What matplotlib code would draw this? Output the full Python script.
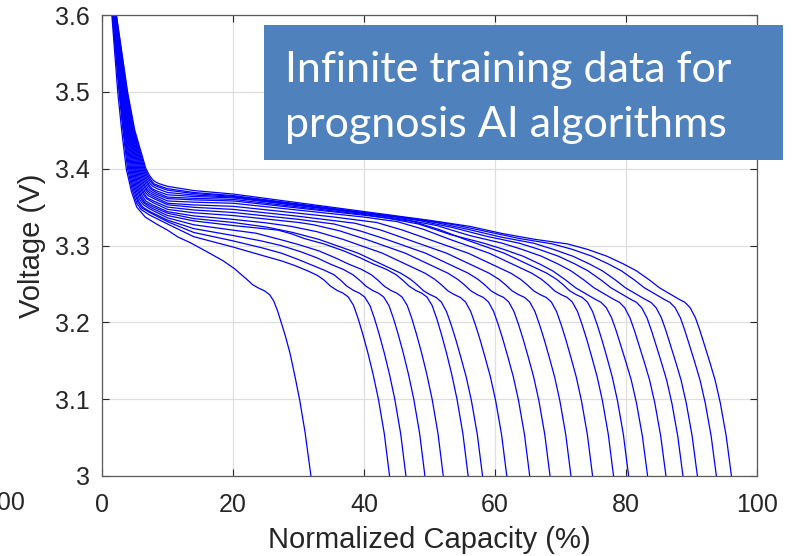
import matplotlib
matplotlib.use("Agg")
import matplotlib.pyplot as plt
from matplotlib.patches import Rectangle

# Discharge curves: normalized capacity (%) and cell voltage (V), one list per cycle
capacity = [
    [1.2, 1.5, 2.4, 3.0, 3.7, 4.5, 5.3, 6.6, 8.3, 10.0, 11.6, 13.4, 16.0, 18.5, 20.2, 22.1, 23.0, 23.8, 24.8, 25.6, 26.2, 26.8, 27.5, 28.0, 28.7, 29.5, 30.2, 31.0, 31.9],
    [1.30, 1.60, 2.60, 3.20, 3.90, 4.60, 5.30, 5.96, 7.18, 10, 14, 20, 24.9, 27.4, 29.4, 31.4, 32.9, 33.9, 34.9, 35.9, 36.8, 37.6, 38.4, 39.1, 39.8, 40.6, 41.4, 42.2, 43.1, 43.9],
    [1.33, 1.63, 2.67, 3.30, 4.06, 4.75, 5.44, 6.08, 7.26, 10, 14, 20, 24.4, 27.4, 29.9, 31.9, 33.9, 35.4, 36.4, 37.4, 38.4, 39.3, 40.1, 40.9, 41.6, 42.3, 43.1, 43.9, 44.7, 45.6, 46.4],
    [1.36, 1.67, 2.74, 3.40, 4.21, 4.90, 5.58, 6.20, 7.35, 10, 14, 20, 24.3, 27.3, 30.3, 32.8, 34.8, 36.8, 38.3, 39.3, 40.3, 41.3, 42.2, 43.0, 43.8, 44.5, 45.2, 46.0, 46.8, 47.6, 48.5, 49.3],
    [1.38, 1.70, 2.82, 3.50, 4.37, 5.05, 5.72, 6.32, 7.43, 10, 14, 20, 23.5, 27.1, 30.1, 33.1, 35.6, 37.6, 39.6, 41.1, 42.1, 43.1, 44.1, 45.0, 45.8, 46.6, 47.3, 48.0, 48.8, 49.6, 50.4, 51.3, 52.1],
    [1.41, 1.73, 2.89, 3.60, 4.52, 5.19, 5.86, 6.44, 7.52, 10, 14, 20, 26.9, 29.0, 30.9, 33.9, 36.9, 39.4, 41.4, 43.4, 44.9, 45.9, 46.9, 47.9, 48.8, 49.6, 50.4, 51.1, 51.8, 52.6, 53.4, 54.2, 55.1, 55.9],
    [1.44, 1.77, 2.96, 3.70, 4.68, 5.34, 6.00, 6.56, 7.60, 10, 14, 20, 25.1, 29.1, 33.1, 36.1, 39.1, 41.6, 43.6, 45.6, 47.1, 48.1, 49.1, 50.1, 51.0, 51.8, 52.6, 53.3, 54.0, 54.8, 55.6, 56.4, 57.3, 58.1],
    [1.47, 1.80, 3.03, 3.80, 4.83, 5.48, 6.13, 6.67, 7.68, 10, 14, 20, 25, 28.8, 32.8, 36.8, 39.8, 42.8, 45.3, 47.3, 49.3, 50.8, 51.8, 52.8, 53.8, 54.7, 55.5, 56.3, 57.0, 57.7, 58.5, 59.3, 60.1, 61.0, 61.8],
    [1.49, 1.83, 3.11, 3.90, 4.99, 5.63, 6.27, 6.79, 7.76, 10, 14, 20, 25, 30, 32.3, 36.3, 40.3, 43.3, 46.3, 48.8, 50.8, 52.8, 54.3, 55.3, 56.3, 57.3, 58.2, 59.0, 59.8, 60.5, 61.2, 62.0, 62.8, 63.6, 64.5, 65.3],
    [1.52, 1.87, 3.18, 4.00, 5.14, 5.78, 6.41, 6.91, 7.85, 10, 14, 20, 25, 30, 35.4, 39.4, 43.4, 46.4, 49.4, 51.9, 53.9, 55.9, 57.4, 58.4, 59.4, 60.4, 61.3, 62.1, 62.9, 63.6, 64.3, 65.1, 65.9, 66.7, 67.6, 68.4],
    [1.55, 1.90, 3.25, 4.10, 5.30, 5.93, 6.55, 7.03, 7.93, 10, 14, 20, 25, 30, 38.6, 42.6, 46.6, 49.6, 52.6, 55.1, 57.1, 59.1, 60.6, 61.6, 62.6, 63.6, 64.5, 65.3, 66.1, 66.8, 67.5, 68.3, 69.1, 69.9, 70.8, 71.6],
    [1.58, 1.93, 3.32, 4.20, 5.46, 6.08, 6.69, 7.15, 8.01, 10, 14, 20, 25, 30, 35, 41.9, 45.9, 49.9, 52.9, 55.9, 58.4, 60.4, 62.4, 63.9, 64.9, 65.9, 66.9, 67.8, 68.6, 69.4, 70.1, 70.8, 71.6, 72.4, 73.2, 74.1, 74.9],
    [1.61, 1.97, 3.39, 4.30, 5.61, 6.22, 6.83, 7.27, 8.10, 10, 14, 20, 25, 30, 35, 40, 45.1, 49.1, 53.1, 56.1, 59.1, 61.6, 63.6, 65.6, 67.1, 68.1, 69.1, 70.1, 71.0, 71.8, 72.6, 73.3, 74.0, 74.8, 75.6, 76.4, 77.3, 78.1],
    [1.63, 2.00, 3.47, 4.40, 5.77, 6.37, 6.97, 7.39, 8.18, 10, 14, 20, 25, 30, 35, 40, 47.4, 51.4, 55.4, 58.4, 61.4, 63.9, 65.9, 67.9, 69.4, 70.4, 71.4, 72.4, 73.3, 74.1, 74.9, 75.6, 76.3, 77.1, 77.9, 78.7, 79.6, 80.4],
    [1.66, 2.03, 3.54, 4.50, 5.92, 6.52, 7.11, 7.52, 8.27, 10, 14, 20, 25, 30, 35, 40, 43.3, 48.3, 53.3, 58.3, 61.3, 64.3, 66.8, 68.8, 70.8, 72.3, 73.3, 74.3, 75.3, 76.2, 77.0, 77.8, 78.5, 79.2, 80.0, 80.8, 81.6, 82.5, 83.3],
    [1.69, 2.07, 3.61, 4.60, 6.08, 6.66, 7.24, 7.63, 8.34, 10, 14, 20, 25, 30, 35, 40, 46.1, 51.1, 56.1, 61.1, 64.1, 67.1, 69.6, 71.6, 73.6, 75.1, 76.1, 77.1, 78.1, 79.0, 79.8, 80.6, 81.3, 82.0, 82.8, 83.6, 84.4, 85.3, 86.1],
    [1.72, 2.10, 3.68, 4.70, 6.23, 6.81, 7.38, 7.75, 8.43, 10, 14, 20, 25, 30, 35, 40, 45, 48.7, 53.7, 58.7, 63.7, 66.7, 69.7, 72.2, 74.2, 76.2, 77.7, 78.7, 79.7, 80.7, 81.6, 82.4, 83.2, 83.9, 84.6, 85.4, 86.2, 87.0, 87.9, 88.7],
    [1.74, 2.13, 3.76, 4.80, 6.39, 6.96, 7.52, 7.87, 8.51, 10, 14, 20, 25, 30, 35, 40, 45, 50.9, 55.9, 60.9, 65.9, 68.9, 71.9, 74.4, 76.4, 78.4, 79.9, 80.9, 81.9, 82.9, 83.8, 84.6, 85.4, 86.1, 86.8, 87.6, 88.4, 89.2, 90.1, 90.9],
    [1.77, 2.17, 3.83, 4.90, 6.54, 7.10, 7.66, 7.99, 8.60, 10, 14, 20, 25, 30, 35, 40, 45, 50, 53.8, 58.8, 63.8, 68.8, 71.8, 74.8, 77.3, 79.3, 81.3, 82.8, 83.8, 84.8, 85.8, 86.7, 87.5, 88.3, 89.0, 89.7, 90.5, 91.3, 92.1, 93.0, 93.8],
    [1.80, 2.20, 3.90, 5.00, 6.70, 7.25, 7.80, 8.11, 8.68, 10, 14, 20, 25, 30, 35, 40, 45, 50, 56.1, 61.1, 66.1, 71.1, 74.1, 77.1, 79.6, 81.6, 83.6, 85.1, 86.1, 87.1, 88.1, 89.0, 89.8, 90.6, 91.3, 92.0, 92.8, 93.6, 94.4, 95.3, 96.1],
]

voltage = [
    [3.65, 3.60, 3.50, 3.45, 3.40, 3.370, 3.350, 3.337, 3.328, 3.320, 3.311, 3.304, 3.292, 3.280, 3.270, 3.256, 3.249, 3.245, 3.241, 3.236, 3.228, 3.215, 3.196, 3.182, 3.160, 3.128, 3.098, 3.057, 3.000],
    [3.65, 3.60, 3.50, 3.45, 3.40, 3.373, 3.355, 3.347, 3.340, 3.328, 3.3115, 3.298, 3.286, 3.280, 3.274, 3.267, 3.261, 3.255, 3.247, 3.2415, 3.238, 3.233, 3.222, 3.205, 3.185, 3.160, 3.132, 3.100, 3.055, 3.000],
    [3.65, 3.60, 3.50, 3.45, 3.40, 3.374, 3.357, 3.349, 3.343, 3.331, 3.317, 3.306, 3.297, 3.290, 3.282, 3.275, 3.268, 3.262, 3.255, 3.247, 3.2415, 3.238, 3.233, 3.222, 3.205, 3.185, 3.160, 3.132, 3.100, 3.055, 3.000],
    [3.65, 3.60, 3.50, 3.45, 3.40, 3.375, 3.358, 3.350, 3.344, 3.333, 3.322, 3.313, 3.306, 3.300, 3.292, 3.284, 3.276, 3.269, 3.262, 3.255, 3.247, 3.2415, 3.238, 3.233, 3.222, 3.205, 3.185, 3.160, 3.132, 3.100, 3.055, 3.000],
    [3.65, 3.60, 3.50, 3.45, 3.40, 3.376, 3.360, 3.353, 3.347, 3.336, 3.327, 3.320, 3.316, 3.308, 3.301, 3.293, 3.284, 3.276, 3.269, 3.262, 3.255, 3.247, 3.2415, 3.238, 3.233, 3.222, 3.205, 3.185, 3.160, 3.132, 3.100, 3.055, 3.000],
    [3.65, 3.60, 3.50, 3.45, 3.40, 3.377, 3.362, 3.355, 3.349, 3.339, 3.332, 3.326, 3.320, 3.315, 3.309, 3.302, 3.293, 3.284, 3.276, 3.269, 3.262, 3.255, 3.247, 3.2415, 3.238, 3.233, 3.222, 3.205, 3.185, 3.160, 3.132, 3.100, 3.055, 3.000],
    [3.65, 3.60, 3.50, 3.45, 3.40, 3.378, 3.363, 3.356, 3.351, 3.342, 3.335, 3.330, 3.324, 3.317, 3.308, 3.299, 3.290, 3.280, 3.272, 3.264, 3.256, 3.249, 3.241, 3.236, 3.2325, 3.2265, 3.214, 3.197, 3.178, 3.154, 3.129, 3.098, 3.054, 3.000],
    [3.65, 3.60, 3.50, 3.45, 3.40, 3.379, 3.365, 3.358, 3.353, 3.344, 3.3385, 3.334, 3.3295, 3.325, 3.318, 3.308, 3.299, 3.290, 3.280, 3.272, 3.264, 3.256, 3.249, 3.241, 3.236, 3.2325, 3.2265, 3.214, 3.197, 3.178, 3.154, 3.129, 3.098, 3.054, 3.000],
    [3.65, 3.60, 3.50, 3.45, 3.40, 3.380, 3.367, 3.361, 3.356, 3.347, 3.3426, 3.339, 3.3345, 3.330, 3.327, 3.319, 3.308, 3.299, 3.290, 3.280, 3.272, 3.264, 3.256, 3.249, 3.241, 3.236, 3.2325, 3.2265, 3.214, 3.197, 3.178, 3.154, 3.129, 3.098, 3.054, 3.000],
    [3.65, 3.60, 3.50, 3.45, 3.40, 3.381, 3.368, 3.362, 3.358, 3.350, 3.3462, 3.343, 3.3385, 3.334, 3.328, 3.319, 3.308, 3.299, 3.290, 3.280, 3.272, 3.264, 3.256, 3.249, 3.241, 3.236, 3.2325, 3.2265, 3.214, 3.197, 3.178, 3.154, 3.129, 3.098, 3.054, 3.000],
    [3.65, 3.60, 3.50, 3.45, 3.40, 3.382, 3.370, 3.365, 3.361, 3.353, 3.3497, 3.347, 3.3425, 3.338, 3.329, 3.320, 3.308, 3.299, 3.290, 3.280, 3.272, 3.264, 3.256, 3.249, 3.241, 3.236, 3.2325, 3.2265, 3.214, 3.197, 3.178, 3.154, 3.129, 3.098, 3.054, 3.000],
    [3.65, 3.60, 3.50, 3.45, 3.40, 3.383, 3.372, 3.367, 3.363, 3.355, 3.3528, 3.351, 3.3465, 3.342, 3.3375, 3.330, 3.320, 3.308, 3.299, 3.290, 3.280, 3.272, 3.264, 3.256, 3.249, 3.241, 3.236, 3.2325, 3.2265, 3.214, 3.197, 3.178, 3.154, 3.129, 3.098, 3.054, 3.000],
    [3.65, 3.60, 3.50, 3.45, 3.40, 3.384, 3.373, 3.369, 3.365, 3.358, 3.3564, 3.355, 3.3505, 3.346, 3.3415, 3.337, 3.331, 3.321, 3.308, 3.299, 3.290, 3.280, 3.272, 3.264, 3.256, 3.249, 3.241, 3.236, 3.2325, 3.2265, 3.214, 3.197, 3.178, 3.154, 3.129, 3.098, 3.054, 3.000],
    [3.65, 3.60, 3.50, 3.45, 3.40, 3.385, 3.375, 3.371, 3.367, 3.361, 3.3594, 3.358, 3.3534, 3.3487, 3.3441, 3.3394, 3.3315, 3.321, 3.308, 3.299, 3.290, 3.280, 3.272, 3.264, 3.256, 3.249, 3.241, 3.236, 3.2325, 3.2265, 3.214, 3.197, 3.178, 3.154, 3.129, 3.098, 3.054, 3.000],
    [3.65, 3.60, 3.50, 3.45, 3.40, 3.386, 3.377, 3.373, 3.369, 3.363, 3.3614, 3.360, 3.3551, 3.3502, 3.3453, 3.3404, 3.336, 3.328, 3.314, 3.303, 3.295, 3.286, 3.276, 3.267, 3.255, 3.245, 3.240, 3.235, 3.230, 3.226, 3.219, 3.206, 3.189, 3.170, 3.148, 3.125, 3.095, 3.052, 3.000],
    [3.65, 3.60, 3.50, 3.45, 3.40, 3.387, 3.378, 3.374, 3.371, 3.366, 3.3638, 3.362, 3.3569, 3.3518, 3.3467, 3.3416, 3.334, 3.326, 3.313, 3.303, 3.295, 3.286, 3.276, 3.267, 3.255, 3.245, 3.240, 3.235, 3.230, 3.226, 3.219, 3.206, 3.189, 3.170, 3.148, 3.125, 3.095, 3.052, 3.000],
    [3.65, 3.60, 3.50, 3.45, 3.40, 3.388, 3.380, 3.377, 3.374, 3.369, 3.3657, 3.363, 3.3578, 3.3525, 3.3473, 3.342, 3.3368, 3.332, 3.323, 3.312, 3.303, 3.295, 3.286, 3.276, 3.267, 3.255, 3.245, 3.240, 3.235, 3.230, 3.226, 3.219, 3.206, 3.189, 3.170, 3.148, 3.125, 3.095, 3.052, 3.000],
    [3.65, 3.60, 3.50, 3.45, 3.40, 3.389, 3.382, 3.379, 3.3765, 3.372, 3.3676, 3.364, 3.3587, 3.3533, 3.348, 3.3426, 3.3373, 3.330, 3.321, 3.311, 3.303, 3.295, 3.286, 3.276, 3.267, 3.255, 3.245, 3.240, 3.235, 3.230, 3.226, 3.219, 3.206, 3.189, 3.170, 3.148, 3.125, 3.095, 3.052, 3.000],
    [3.65, 3.60, 3.50, 3.45, 3.40, 3.390, 3.383, 3.380, 3.378, 3.374, 3.369, 3.365, 3.3595, 3.354, 3.3485, 3.343, 3.3375, 3.332, 3.327, 3.318, 3.309, 3.302, 3.295, 3.286, 3.276, 3.267, 3.255, 3.245, 3.240, 3.235, 3.230, 3.226, 3.219, 3.206, 3.189, 3.170, 3.148, 3.125, 3.095, 3.052, 3.000],
    [3.65, 3.60, 3.50, 3.45, 3.40, 3.391, 3.385, 3.383, 3.3806, 3.377, 3.3715, 3.367, 3.3613, 3.3556, 3.3499, 3.3442, 3.3385, 3.3328, 3.325, 3.3156, 3.308, 3.302, 3.295, 3.286, 3.276, 3.267, 3.255, 3.245, 3.240, 3.235, 3.230, 3.226, 3.219, 3.206, 3.189, 3.170, 3.148, 3.125, 3.095, 3.052, 3.000],
]

x_ticks = [0, 20, 40, 60, 80, 100]
y_ticks = [3.0, 3.1, 3.2, 3.3, 3.4, 3.5, 3.6]
y_tick_labels = ["3", "3.1", "3.2", "3.3", "3.4", "3.5", "3.6"]
banner_lines = ["Infinite training data for", "prognosis AI algorithms"]

axis_color = "#262626"
plt.rcParams["font.family"] = ["Liberation Sans", "DejaVu Sans"]

fig = plt.figure(figsize=(7.92, 5.56), dpi=100)
ax = fig.add_axes([0.1288, 0.1439, 0.8270, 0.8291])

for cap, volt in zip(capacity, voltage):
    ax.plot(cap, volt, color="#0000ff", linewidth=0.9)

ax.set_xlim(0, 100)
ax.set_ylim(3.0, 3.6)
ax.set_xticks(x_ticks)
ax.set_yticks(y_ticks)
ax.set_yticklabels(y_tick_labels)
ax.grid(True, color="#dedede", linewidth=0.9)
ax.set_axisbelow(True)
ax.tick_params(direction="in", length=5, width=0.8, colors=axis_color,
               labelsize=18, top=True, right=True)
ax.tick_params(axis="x", pad=12)
ax.tick_params(axis="y", pad=9)
for side in ax.spines.values():
    side.set_color("#5a5a5a")
    side.set_linewidth(0.9)

ax.set_xlabel("Normalized Capacity (%)", fontsize=21, color=axis_color, labelpad=7)
ax.set_ylabel("Voltage (V)", fontsize=21, color=axis_color, labelpad=6)

# tick label of the neighbouring panel, cut by the left edge
fig.text(4 / 792, 1 - 491 / 556, "100", fontsize=18, color=axis_color,
         ha="center", va="top")

# blue banner
fig.add_artist(Rectangle((264 / 792, 1 - 160 / 556), 519 / 792, 135 / 556,
                         transform=fig.transFigure, facecolor="#4f81bd",
                         edgecolor="none", zorder=5))
fig.text(285 / 792, 1 - 82 / 556, banner_lines[0], family="Lato", fontsize=31,
         color="white", ha="left", va="baseline", zorder=6)
fig.text(285 / 792, 1 - 137 / 556, banner_lines[1], family="Lato", fontsize=31,
         color="white", ha="left", va="baseline", zorder=6)

fig.savefig("out.png", dpi=100)
